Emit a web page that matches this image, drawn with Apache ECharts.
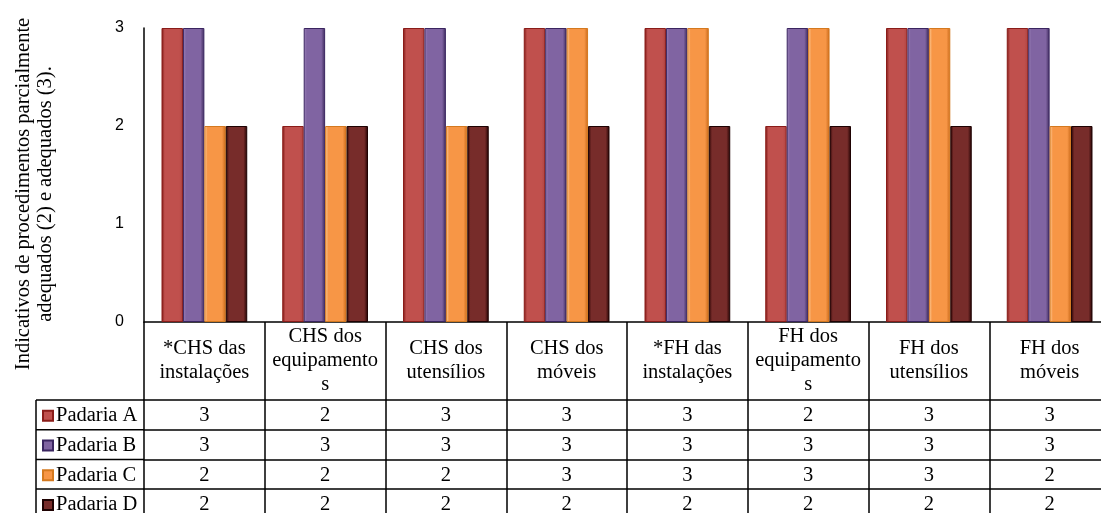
<!DOCTYPE html>
<html>
<head>
<meta charset="utf-8">
<script src="https://cdn.jsdelivr.net/npm/echarts@6/dist/echarts.min.js"></script>
<style>
  html, body { margin: 0; padding: 0; background: #ffffff; }
  #chart { width: 1101px; height: 513px; }
</style>
</head>
<body>
<div id="chart"></div>
<script>
// Categories (table header), wrapped the way the column width forces them
const categories = [
  '*CHS das\ninstalações',
  'CHS dos\nequipamento\ns',
  'CHS dos\nutensílios',
  'CHS dos\nmóveis',
  '*FH das\ninstalações',
  'FH dos\nequipamento\ns',
  'FH dos\nutensílios',
  'FH dos\nmóveis'
];
const seriesNames = ['Padaria A', 'Padaria B', 'Padaria C', 'Padaria D'];
const padariaA = [3, 2, 3, 3, 3, 2, 3, 3];
const padariaB = [3, 3, 3, 3, 3, 3, 3, 3];
const padariaC = [2, 2, 2, 3, 3, 3, 3, 2];
const padariaD = [2, 2, 2, 2, 2, 2, 2, 2];
const yTicks = [0, 1, 2, 3];
const yTitle = 'Indicativos de procedimentos parcialmente\nadequados (2) e adequados (3).';

const rows = [padariaA, padariaB, padariaC, padariaD];

// Layout
const GRID_LEFT = 144;
const GRID_TOP = 28;
const PLOT_H = 294;
const PLOT_W = 966;          // 8 columns, last one runs past the right edge
const HEADER_H = 78;
const ROW_H = 29.7;
const LEGEND_LEFT = 36;
const AXIS_Y = GRID_TOP + PLOT_H;
const HEADER_BOTTOM = AXIS_Y + HEADER_H;
const TABLE_BOTTOM = HEADER_BOTTOM + ROW_H * rows.length;

const SERIF = "'Liberation Serif', 'Times New Roman', serif";
const FONT_SIZE = 20.5;

// Shaded bar fills: tinted edges, flat middle
function shade(edgeL, mid, edgeR) {
  return new echarts.graphic.LinearGradient(0, 0, 1, 0, [
    { offset: 0, color: edgeL },
    { offset: 0.15, color: mid },
    { offset: 0.82, color: mid },
    { offset: 1, color: edgeR }
  ]);
}
const fills = [
  shade('#7d1512', '#c0504d', '#b04441'),
  shade('#9a82b8', '#8064a2', '#3d2a5c'),
  shade('#fcd0a0', '#f79646', '#c86818'),
  shade('#2a0303', '#772c2a', '#220202')
];
const borders = ['#8a1c19', '#3a2560', '#d4791f', '#1e0202'];

const chart = echarts.init(document.getElementById('chart'), null, { renderer: 'canvas' });

const xAxes = [{
  type: 'category',
  data: categories,
  position: 'bottom',
  boundaryGap: true,
  axisLine: { show: true, lineStyle: { color: '#000', width: 1.5 } },
  axisTick: {
    show: true, interval: 0, alignWithLabel: false,
    length: TABLE_BOTTOM - AXIS_Y + 10,
    lineStyle: { color: '#000', width: 1.5 }
  },
  axisLabel: {
    interval: 0, margin: HEADER_H / 2, verticalAlign: 'middle',
    fontFamily: SERIF, fontSize: FONT_SIZE, lineHeight: 24, color: '#000'
  },
  splitLine: { show: false }
}];
rows.forEach((row, i) => {
  xAxes.push({
    type: 'category',
    data: categories,
    position: 'bottom',
    offset: HEADER_H + i * ROW_H,
    axisLine: { show: true, lineStyle: { color: '#000', width: 1.5 } },
    axisTick: { show: false },
    axisLabel: {
      interval: 0, margin: ROW_H / 2 + 1, verticalAlign: 'middle',
      fontFamily: SERIF, fontSize: FONT_SIZE, color: '#000',
      formatter: (v, idx) => String(row[idx])
    },
    splitLine: { show: false }
  });
});

// Legend column borders (left of the plot area)
const tableLines = [];
for (let k = 0; k <= rows.length; k++) {
  const y = HEADER_BOTTOM + k * ROW_H;
  tableLines.push({
    type: 'line', silent: true,
    shape: { x1: LEGEND_LEFT, y1: y, x2: GRID_LEFT, y2: y },
    style: { stroke: '#000', lineWidth: 1.5 }
  });
}
tableLines.push({
  type: 'line', silent: true,
  shape: { x1: LEGEND_LEFT, y1: HEADER_BOTTOM, x2: LEGEND_LEFT, y2: TABLE_BOTTOM + 10 },
  style: { stroke: '#000', lineWidth: 1.5 }
});

// One legend entry per table row, each sitting in its own row cell
const legends = seriesNames.map((name, i) => ({
  orient: 'horizontal',
  left: LEGEND_LEFT + 6,
  top: HEADER_BOTTOM + i * ROW_H + 1,
  padding: 0,
  itemWidth: 10,
  itemHeight: 10,
  itemGap: 0,
  icon: 'rect',
  data: [name],
  textStyle: { fontFamily: SERIF, fontSize: FONT_SIZE, color: '#000', lineHeight: ROW_H, padding: [0, 0, 0, -2] }
}));

chart.setOption({
  animation: false,
  backgroundColor: '#ffffff',
  grid: {
    left: GRID_LEFT, top: GRID_TOP, width: PLOT_W, height: PLOT_H,
    containLabel: false, outerBoundsMode: 'none'
  },
  legend: legends,
  xAxis: xAxes,
  yAxis: {
    type: 'value',
    min: yTicks[0],
    max: yTicks[yTicks.length - 1],
    interval: 1,
    axisLine: { show: true, lineStyle: { color: '#000', width: 1.5 } },
    axisTick: { show: false },
    splitLine: { show: false },
    axisLabel: { margin: 20, fontFamily: "'Liberation Sans', Arial, sans-serif", fontSize: 16, color: '#000' },
    name: yTitle,
    nameLocation: 'middle',
    nameRotate: 90,
    nameGap: 87,
    nameTextStyle: {
      fontFamily: SERIF, fontSize: FONT_SIZE, lineHeight: 22, color: '#000',
      align: 'center', padding: [0, 38, 0, 0]
    }
  },
  graphic: tableLines,
  series: rows.map((row, i) => ({
    name: seriesNames[i],
    type: 'bar',
    data: row,
    xAxisIndex: 0,
    barGap: 0,
    barCategoryGap: '29%',
    itemStyle: { color: fills[i], borderColor: borders[i], borderWidth: 1 }
  }))
});
</script>
</body>
</html>
